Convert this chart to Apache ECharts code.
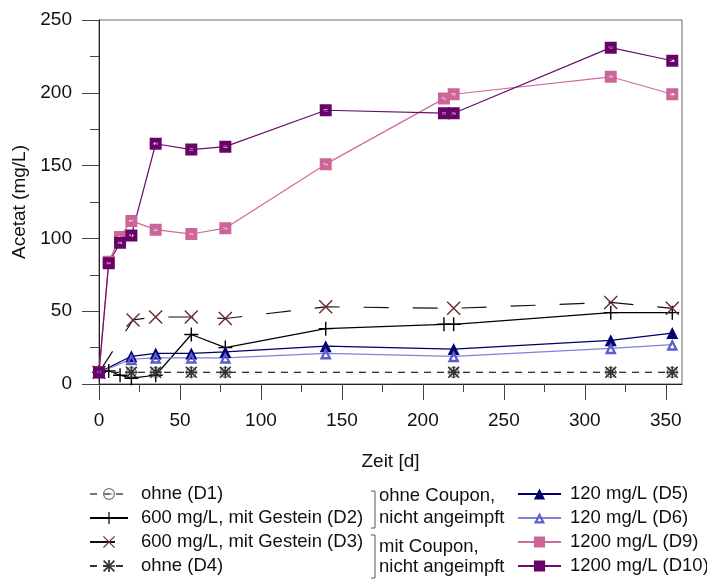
<!DOCTYPE html>
<html>
<head>
<meta charset="utf-8">
<script src="https://cdn.jsdelivr.net/npm/echarts@6/dist/echarts.min.js"></script>
<style>
  html, body { margin: 0; padding: 0; background: #fff; }
  #chart { width: 707px; height: 579px; }
</style>
</head>
<body>
<div id="chart"></div>
<script>
// Messzeitpunkte [d]
const tAll = [0, 6, 13, 20, 35, 57, 78, 140, 213, 219, 316, 354];
const tD3 = [0, 21, 35, 57, 78, 140, 219, 316, 354];
const tD5 = [0, 20, 35, 57, 78, 140, 219, 316, 354];
const tD4 = [0, 20, 35, 57, 78, 219, 316, 354];

// Acetat (mg/L)
const valD1 = [8, 8, 8, 8, 8, 8, 8, 8];
const valD2 = [8, 9, 6, 4, 6, 34, 25, 38, 41, 41, 49, 49];
const valD3 = [8, 44, 46, 46, 45, 53, 52, 56, 52];
const valD4 = [8, 8, 8, 8, 8, 8, 8, 8];
const valD5 = [8, 19, 21, 21, 22, 26, 24, 30, 35];
const valD6 = [8, 17, 18, 18, 18, 21, 19, 24.5, 27];
const valD9 = [8, 84, 101, 112, 106, 103, 107, 151, 196, 199, 211, 199];
const valD10 = [8, 83, 97, 102, 165, 161, 163, 188, 186, 186, 231, 222];

const xTicks = [0, 50, 100, 150, 200, 250, 300, 350];
const leftNames = ['ohne (D1)', '600 mg/L, mit Gestein (D2)', '600 mg/L, mit Gestein (D3)', 'ohne (D4)'];
const rightNames = ['120 mg/L (D5)', '120 mg/L (D6)', '1200 mg/L (D9)', '1200 mg/L (D10)'];
const groupText = [['ohne Coupon,', 'nicht angeimpft'], ['mit Coupon,', 'nicht angeimpft']];

const FONT = "'Liberation Sans', Arial, sans-serif";

// Symbole
const symPlus = 'path://M0,6.3 L14,6.3 L14,7.7 L0,7.7 Z M6.3,0 L7.7,0 L7.7,14 L6.3,14 Z';
const symCross = 'path://M0,1 L1,0 L14,13 L13,14 Z M13,0 L14,1 L1,14 L0,13 Z';
const symStar = 'path://M0,6 L14,6 L14,8 L0,8 Z M6,0 L8,0 L8,14 L6,14 Z M0,1.4 L1.4,0 L14,12.6 L12.6,14 Z M12.6,0 L14,1.4 L1.4,14 L0,12.6 Z';
const symSquare = 'path://M0,0 L12,0 L12,12 L0,12 Z M4,5 L4,7 L8,7 L8,5 Z';
const symTriOpen = 'path://M7,0 L14,12 L0,12 Z M7,5 L4.5,9.5 L9.5,9.5 Z';
const symCircleBar = 'path://M7,0 A7,7 0 1,1 6.99,0 Z M7,1.4 A5.6,5.6 0 1,0 7.01,1.4 Z M3,6.4 L11,6.4 L11,7.6 L3,7.6 Z';

function pairs(t, v) {
  return t.map((x, i) => [x, v[i]]);
}

function line(name, t, v, opt) {
  return Object.assign({
    name: name,
    type: 'line',
    data: pairs(t, v),
    showAllSymbol: true,
    animation: false
  }, opt);
}

const series = [
  line(leftNames[0], tD4, valD1, {
    symbol: symCircleBar, symbolSize: 11,
    itemStyle: { color: '#777' },
    lineStyle: { color: '#777', width: 1, type: [7, 6] }
  }),
  line(leftNames[1], tAll, valD2, {
    symbol: symPlus, symbolSize: 14,
    itemStyle: { color: '#000' },
    lineStyle: { color: '#000', width: 1.2 }
  }),
  line(leftNames[2], tD3, valD3, {
    symbol: symCross, symbolSize: 14,
    itemStyle: { color: '#6b2a2a' },
    lineStyle: { color: '#111', width: 1.2, type: [25, 24] }
  }),
  line(leftNames[3], tD4, valD4, {
    symbol: symStar, symbolSize: 12,
    itemStyle: { color: '#333' },
    lineStyle: { color: '#333', width: 1.2, type: [7, 6] }
  }),
  line(rightNames[0], tD5, valD5, {
    symbol: 'triangle', symbolSize: 12,
    itemStyle: { color: '#000070' },
    lineStyle: { color: '#000066', width: 1.2 }
  }),
  line(rightNames[1], tD5, valD6, {
    symbol: symTriOpen, symbolSize: 12,
    itemStyle: { color: '#5d5dcc' },
    lineStyle: { color: '#8080dd', width: 1.2 }
  }),
  line(rightNames[2], tAll, valD9, {
    symbol: symSquare, symbolSize: 12,
    itemStyle: { color: '#cc6699' },
    lineStyle: { color: '#d06a9c', width: 1.2 }
  }),
  line(rightNames[3], tAll, valD10, {
    symbol: symSquare, symbolSize: 12,
    itemStyle: { color: '#680468' },
    lineStyle: { color: '#6e0c6e', width: 1.2 }
  })
];

const rowY = [494, 518, 542, 566];
const legendText = { fontFamily: FONT, fontSize: 18.5, color: '#111', lineHeight: 20 };
const legends = [];
leftNames.forEach((n, i) => {
  legends.push({
    data: [n], left: 89, top: rowY[i] - 10, padding: 0,
    itemWidth: 38, itemHeight: 15, selectedMode: false,
    textStyle: Object.assign({ padding: [0, 0, 0, 8] }, legendText)
  });
});
rightNames.forEach((n, i) => {
  legends.push({
    data: [n], left: 517, top: rowY[i] - 10, padding: 0,
    itemWidth: 43, itemHeight: 14, selectedMode: false,
    textStyle: Object.assign({ padding: [0, 0, 0, 4] }, legendText)
  });
});

// Klammern + Beschriftung der Gruppen
const bracketStyle = { stroke: '#555', lineWidth: 1, fill: null };
const graphics = [
  { type: 'polyline', shape: { points: [[371, 491], [375, 491], [375, 528], [371, 528]] }, style: bracketStyle },
  { type: 'polyline', shape: { points: [[371, 535], [375, 535], [375, 578], [371, 578]] }, style: bracketStyle }
];
const groupY = [[496, 518], [547, 567]];
groupText.forEach((g, gi) => {
  g.forEach((s, si) => {
    graphics.push({
      type: 'text', left: 379, top: groupY[gi][si] - 10,
      style: { text: s, font: '18.5px ' + FONT, fill: '#111' }
    });
  });
});

const chart = echarts.init(document.getElementById('chart'));
chart.setOption({
  animation: false,
  backgroundColor: '#fff',
  grid: {
    left: 99, right: 25, top: 20, bottom: 195,
    show: true, borderColor: '#666', borderWidth: 1
  },
  xAxis: {
    type: 'value', min: 0, max: 360, interval: 50,
    name: 'Zeit [d]', nameLocation: 'middle', nameGap: 68,
    nameTextStyle: { fontFamily: FONT, fontSize: 19, color: '#111' },
    axisLine: { show: true, lineStyle: { color: '#222', width: 1 } },
    axisTick: { show: true, length: 16, customValues: xTicks, lineStyle: { color: '#444' } },
    minorTick: { show: true, splitNumber: 2, length: 8, lineStyle: { color: '#444' } },
    axisLabel: { customValues: xTicks, margin: 27, fontFamily: FONT, fontSize: 19, color: '#111' },
    splitLine: { show: false }
  },
  yAxis: {
    type: 'value', min: 0, max: 250, interval: 50,
    name: 'Acetat (mg/L)', nameLocation: 'middle', nameGap: 61,
    nameTextStyle: { fontFamily: FONT, fontSize: 19, color: '#111' },
    axisLine: { show: true, lineStyle: { color: '#222', width: 1 } },
    axisTick: { show: true, length: 17, lineStyle: { color: '#444' } },
    minorTick: { show: true, splitNumber: 2, length: 9, lineStyle: { color: '#444' } },
    axisLabel: { margin: 27, fontFamily: FONT, fontSize: 19, color: '#111' },
    splitLine: { show: false }
  },
  legend: legends,
  graphic: graphics,
  series: series
});
</script>
</body>
</html>
